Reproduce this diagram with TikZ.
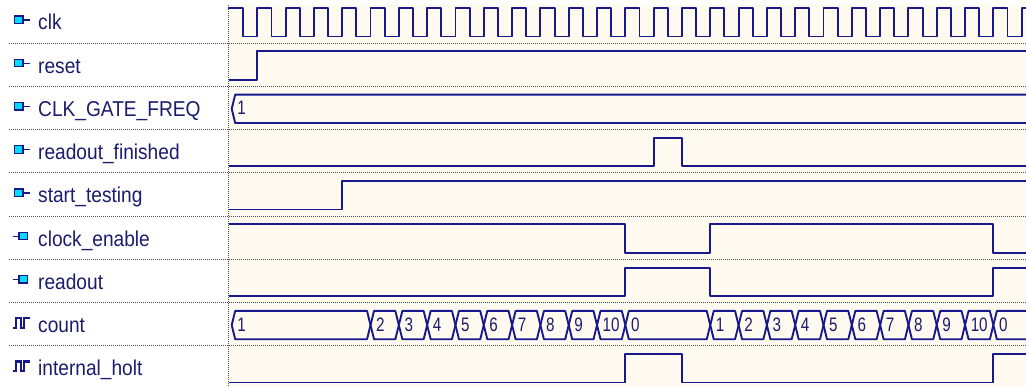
\documentclass[tikz,border=0pt]{standalone}
\usepackage{fontspec}
\newfontfamily\labf{Liberation Sans}[FakeStretch=0.89]
\newfontfamily\busf{Liberation Sans}[FakeStretch=0.78]
\definecolor{cream}{RGB}{255,250,240}
\definecolor{wavec}{RGB}{24,24,140}
\definecolor{txt}{RGB}{28,28,110}
\definecolor{dotc}{RGB}{80,80,80}
\definecolor{iconfill}{RGB}{0,220,255}
\tikzset{
  wave/.style={draw=wavec, line width=1.9pt, line join=round},
  sepline/.style={draw=dotc, line width=1pt, dash pattern=on 1pt off 1pt},
  lab/.style={anchor=base west, inner sep=0pt, text=txt, font=\labf\fontsize{21.5}{24}\selectfont},
  bustext/.style={anchor=base west, inner sep=0pt, text=txt, font=\busf\fontsize{19.5}{22}\selectfont},
  iconbox/.style={fill=iconfill, draw=wavec, line width=1.1pt},
  iconline/.style={draw=wavec, line width=1.5pt},
}
\newcommand\busseg[5]{%
  \draw[wave] ({#1},{#3+22.35}) -- ({#1+3.5},{#3+8.2}) -- ({#2-3.5},{#3+8.2}) -- ({#2},{#3+22.35}) -- ({#2-3.5},{#3+36.5}) -- ({#1+3.5},{#3+36.5}) -- cycle;
  \node[bustext] (#5) at ({#1+5.5},{#3+28.3}) {#4};
}
\begin{document}
\begin{tikzpicture}[x=1pt,y=-1pt]
\useasboundingbox (0,0) rectangle (1026,387);
\fill[white] (0,0) rectangle (1026,387);
\fill[cream] (229,5) rectangle (1026,387);
% separators
\foreach \k in {1,...,8} \draw[sepline] (9,{43.25*\k}) -- (1026,{43.25*\k});
\draw[sepline] (228.5,5) -- (228.5,387);
% labels
\foreach \i/\t/\kind in {0/clk/in,1/reset/in,2/CLK\_GATE\_FREQ/in,3/readout\_finished/in,4/start\_testing/in,5/clock\_enable/out,6/readout/out,7/count/int,8/internal\_holt/int}{
  \pgfmathsetmacro\top{43.25*\i}
  \node[lab] (l\i) at (38,{\top+30}) {\t};
  \ifnum\pdfstrcmp{\kind}{in}=0
    \draw[iconline, line width=1.4pt] (23,{\top+20}) -- (29.5,{\top+20});
    \filldraw[iconbox] (14.5,{\top+16}) rectangle (23,{\top+23.5});
  \fi
  \ifnum\pdfstrcmp{\kind}{out}=0
    \draw[iconline, line width=1.4pt] (12.5,{\top+20}) -- (19,{\top+20});
    \filldraw[iconbox] (19,{\top+16}) rectangle (27.5,{\top+23.5});
  \fi
  \ifnum\pdfstrcmp{\kind}{int}=0
    \draw[iconline, line width=2.2pt, line join=miter] (12.5,{\top+25}) -- (16,{\top+25}) -- (16,{\top+15.5}) -- (21,{\top+15.5}) -- (21,{\top+25}) -- (24,{\top+25}) -- (24,{\top+15.5}) -- (29.5,{\top+15.5});
  \fi
}
\begin{scope}
\clip (228,0) rectangle (1026,387);
% clk
\draw[wave] (228,8.2) -- (243.15,8.2) -- (243.15,36.5)
  \foreach \k in {0,...,26} { -- ({257.3+28.31*\k},36.5) -- ({257.3+28.31*\k},8.2) -- ({257.3+28.31*\k+14.155},8.2) -- ({257.3+28.31*\k+14.155},36.5) }
  -- (1021.67,36.5) -- (1021.67,8.2) -- (1030,8.2);
% reset
\draw[wave] (229,79.75) -- (257.3,79.75) -- (257.3,51.45) -- (1030,51.45);
% CLK_GATE_FREQ
\busseg{231.7}{1045}{86.5}{1}{g1}
% readout_finished
\draw[wave] (229,166.25) -- (653.64,166.25) -- (653.64,137.95) -- (681.95,137.95) -- (681.95,166.25) -- (1030,166.25);
% start_testing
\draw[wave] (229,209.5) -- (342.23,209.5) -- (342.23,181.2) -- (1030,181.2);
% clock_enable
\draw[wave] (229,224.45) -- (625.33,224.45) -- (625.33,252.75) -- (710.26,252.75) -- (710.26,224.45) -- (993.36,224.45) -- (993.36,252.75) -- (1030,252.75);
% readout
\draw[wave] (229,296) -- (625.33,296) -- (625.33,267.7) -- (710.26,267.7) -- (710.26,296) -- (993.36,296) -- (993.36,267.7) -- (1030,267.7);
% count
\busseg{231.7}{370.54}{302.75}{1}{c1}
\foreach \k in {4,...,12}{
  \pgfmathsetmacro\xa{257.3+28.31*\k}
  \pgfmathsetmacro\xb{257.3+28.31*(\k+1)}
  \pgfmathtruncatemacro\v{\k-2}
  \busseg{\xa}{\xb}{302.75}{\v}{ca\k}
}
\busseg{625.33}{710.26}{302.75}{0}{c0a}
\foreach \k in {16,...,25}{
  \pgfmathsetmacro\xa{257.3+28.31*\k}
  \pgfmathsetmacro\xb{257.3+28.31*(\k+1)}
  \pgfmathtruncatemacro\v{\k-15}
  \busseg{\xa}{\xb}{302.75}{\v}{cb\k}
}
\busseg{993.36}{1060}{302.75}{0}{c0b}
% internal_holt
\draw[wave] (229,382.5) -- (625.33,382.5) -- (625.33,354.2) -- (681.95,354.2) -- (681.95,382.5) -- (993.36,382.5) -- (993.36,354.2) -- (1030,354.2);
\end{scope}
\end{tikzpicture}
\end{document}
